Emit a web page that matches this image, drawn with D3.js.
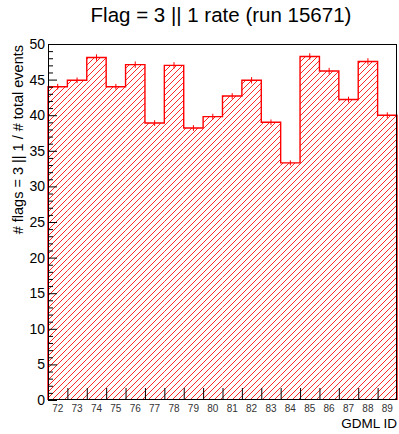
<!DOCTYPE html>
<meta charset="utf-8">
<script src="https://cdn.jsdelivr.net/npm/d3@7"></script>
<style>
body { margin: 0; background: #fff; }
text { font-family: "Liberation Sans", Arial, sans-serif; fill: #000; }
</style>
<body>
<script>

var ids = [72, 73, 74, 75, 76, 77, 78, 79, 80, 81, 82, 83, 84, 85, 86, 87, 88, 89]
var rates = [44.0, 44.9, 48.1, 44.0, 47.1, 38.9, 47.0, 38.2, 39.8, 42.7, 44.9, 39.0, 33.3, 48.25, 46.2, 42.2, 47.55, 40.0]
var errs = [0.4, 0.4, 0.45, 0.4, 0.45, 0.4, 0.45, 0.4, 0.4, 0.4, 0.45, 0.4, 0.35, 0.45, 0.45, 0.4, 0.45, 0.4]
var yTicks = [0, 5, 10, 15, 20, 25, 30, 35, 40, 45, 50]

var width = 399
var height = 434
var padL = 48, padR = 397, padT = 44, padB = 400

var svg = d3.select("body").append("svg")
            .attr("width", width)
            .attr("height", height)

var x = d3.scaleLinear().domain([0, ids.length]).range([padL, padR])
var y = d3.scaleLinear().domain([0, 50]).range([padB, padT])

// hatch: 45 degree lines x + y = k, cut to each bin's rectangle, one path
var gap = 6
var hp = d3.path()
rates.forEach(function(v, i) {
  var x0 = x(i), x1 = x(i + 1), yt = y(v), yb = padB
  for (var k = padL + padT; k <= padR + padB + gap; k += gap) {
    var xs = Math.max(x0, k - yb), xe = Math.min(x1, k - yt)
    if (xs < xe) { hp.moveTo(xs, k - xs); hp.lineTo(xe, k - xe) }
  }
})

svg.append("path")
   .attr("d", hp.toString())
   .style("fill", "none")
   .style("stroke", "rgb(255,40,40)")
   .style("stroke-width", "1px")

var pts = rates.map(function(v, i) { return [x(i), y(v)] })
pts.push([x(ids.length), y(rates[rates.length - 1])])

var line = d3.line()
    .x(function(d) { return d[0] })
    .y(function(d) { return d[1] })
    .curve(d3.curveStepAfter)

var outline = [[x(0), padB]].concat(pts).concat([[x(ids.length), padB]])
svg.append("path")
   .attr("d", line(outline))
   .attr("fill", "none")
   .attr("stroke", "#ff0000")
   .attr("stroke-width", 1.4)

// error bars
svg.append("g").selectAll("line")
   .data(rates)
   .enter().append("line")
   .attr("x1", function(d, i) { return x(i + 0.5) })
   .attr("x2", function(d, i) { return x(i + 0.5) })
   .attr("y1", function(d, i) { return y(d + errs[i]) })
   .attr("y2", function(d, i) { return y(d - errs[i]) })
   .attr("stroke", "#ff0000")
   .attr("stroke-width", 1)

// frame
svg.append("rect")
   .attr("x", padL + 0.5).attr("y", padT + 0.5)
   .attr("width", padR - padL - 1).attr("height", padB - padT - 1)
   .attr("fill", "none")
   .attr("stroke", "#000")
   .attr("stroke-width", 1)

// y axis: major + minor ticks pointing inside
var yAxis = d3.axisRight(y).tickValues(yTicks).tickSize(9).tickFormat("")
svg.append("g")
   .attr("class", "yaxis")
   .attr("transform", "translate(" + padL + ",0)")
   .call(yAxis)
   .call(function(g) { g.select(".domain").remove() })

var yMinor = d3.axisRight(y).tickValues(d3.range(0, 51).filter(function(d) { return d % 5 != 0 })).tickSize(5).tickFormat("")
svg.append("g")
   .attr("class", "yaxis")
   .attr("transform", "translate(" + padL + ",0)")
   .call(yMinor)
   .call(function(g) { g.select(".domain").remove() })

svg.selectAll(".yaxis .tick line").attr("stroke", "#000")

svg.append("g").selectAll("text")
   .data(yTicks)
   .enter().append("text")
   .attr("x", padL - 3)
   .attr("y", function(d) { return y(d) + 5 })
   .attr("text-anchor", "end")
   .style("font-size", "14px")
   .text(function(d) { return d })

// x axis: ticks at bin edges, labels at bin centers
var xAxis = d3.axisTop(x).tickValues(d3.range(1, ids.length)).tickSize(12).tickFormat("")
svg.append("g")
   .attr("transform", "translate(0," + padB + ")")
   .call(xAxis)
   .call(function(g) { g.select(".domain").remove() })
   .selectAll(".tick line").attr("stroke", "#000")

svg.append("g").selectAll("text")
   .data(ids)
   .enter().append("text")
   .attr("x", function(d, i) { return x(i + 0.5) })
   .attr("y", padB + 12)
   .attr("text-anchor", "middle")
   .style("font-size", "10px")
   .style("fill", "#333")
   .text(function(d) { return d })

svg.append("text")
   .attr("x", padR)
   .attr("y", 428)
   .attr("text-anchor", "end")
   .style("font-size", "13.5px")
   .text("GDML ID")

svg.append("text")
   .attr("transform", "translate(23,45) rotate(-90)")
   .attr("text-anchor", "end")
   .style("font-size", "14.5px")
   .text("# flags = 3 || 1 / # total events")

svg.append("text")
   .attr("x", 221)
   .attr("y", 22)
   .attr("text-anchor", "middle")
   .style("font-size", "20.5px")
   .text("Flag = 3 || 1 rate (run 15671)")

</script>
</body>
